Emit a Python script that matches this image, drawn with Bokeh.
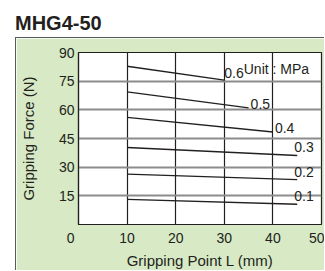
from bokeh.plotting import figure
from bokeh.models import Div, Label, FixedTicker, ColumnDataSource, Spacer
from bokeh.layouts import column, row
from bokeh.core.properties import value
from bokeh.embed import file_html
from bokeh.resources import INLINE

# ---- data ----
title = "MHG4-50"
x_label = "Gripping Point L (mm)"
y_label = "Gripping Force (N)"
unit_label = "Unit : MPa"
pressures = ["0.6", "0.5", "0.4", "0.3", "0.2", "0.1"]
x_start = [10, 10, 10, 10, 10, 10]
x_end = [30, 35, 40, 45, 45, 45]
f_start = [82.8, 69.4, 56.0, 40.3, 26.4, 13.1]
f_end = [75.6, 61.0, 48.4, 36.1, 23.5, 10.6]
x_ticks = [0, 10, 20, 30, 40, 50]
y_ticks = [15, 30, 45, 60, 75, 90]

# ---- style ----
FONT = "Liberation Sans"
GREEN = "#d7e9c5"
TXT = "#231f20"
lab_dx = [0, 2, 2, -3, -3, -3]
lab_dy = [-7, -4, -4, -9, -8, -8]

title_div = Div(
    text=f'<div style="font-family:{FONT};font-weight:bold;font-size:20px;color:{TXT};padding-left:15px;line-height:24px;">{title}</div>',
    width=325, height=26, margin=(0, 0, 0, 0))

p = figure(width=309, height=233, x_range=(0, 50), y_range=(0, 90),
           output_backend="svg", toolbar_location=None,
           min_border_left=60, min_border_right=4, min_border_top=14,
           min_border_bottom=0, margin=(0, 0, 0, 0))
p.styles = {"border-left": "1px solid #58595b", "border-top": "1px solid #58595b"}
p.border_fill_color = GREEN
p.background_fill_color = "white"
p.outline_line_color = TXT
p.outline_line_width = 1.2

p.xaxis.ticker = FixedTicker(ticks=x_ticks)
p.yaxis.ticker = FixedTicker(ticks=y_ticks)
p.xaxis.major_label_overrides = {0: "0\u2007\u2007"}
for ax in (p.xaxis[0], p.yaxis[0]):
    ax.axis_line_color = TXT
    ax.axis_line_width = 1.2
    ax.major_tick_line_color = None
    ax.minor_tick_line_color = None
    ax.major_tick_out = 0
    ax.major_tick_in = 0
    ax.minor_tick_out = 0
    ax.minor_tick_in = 0
    ax.major_label_text_font = FONT
    ax.major_label_text_font_size = "14px"
    ax.major_label_text_color = TXT
    ax.axis_label_text_font = FONT
    ax.axis_label_text_font_size = "15px"
    ax.axis_label_text_font_style = "normal"
    ax.axis_label_text_color = TXT
p.xaxis.axis_label = x_label
p.yaxis.axis_label = y_label
p.xaxis.major_label_standoff = 5
p.xaxis.axis_label_standoff = 3
p.yaxis.major_label_standoff = 4
p.yaxis.axis_label_standoff = 19

p.xgrid.ticker = FixedTicker(ticks=[10, 20, 30, 40])
p.ygrid.ticker = FixedTicker(ticks=[15, 30, 45, 60, 75])
p.xgrid.grid_line_color = TXT
p.xgrid.grid_line_width = 1.2
p.ygrid.grid_line_color = "#8c8c8c"
p.ygrid.grid_line_width = 1.8

src = ColumnDataSource(dict(x0=x_start, y0=f_start, x1=x_end, y1=f_end,
                            t=pressures, dx=lab_dx, dy=lab_dy))
p.segment(x0="x0", y0="y0", x1="x1", y1="y1", source=src,
          line_color=TXT, line_width=1.3)
p.text(x="x1", y="y1", text="t", x_offset="dx", y_offset="dy", source=src,
       text_font=value(FONT), text_font_size="14px", text_color=TXT,
       text_align="left", text_baseline="middle")

p.add_layout(Label(x=34, y=81.5, text=unit_label, text_font=FONT,
                   text_font_size="14px", text_color=TXT,
                   text_align="left", text_baseline="middle"))

layout = column(Spacer(height=11), title_div,
                row(Spacer(width=15), p, spacing=0), spacing=0)
open("out.html", "w").write(file_html(layout, INLINE))
